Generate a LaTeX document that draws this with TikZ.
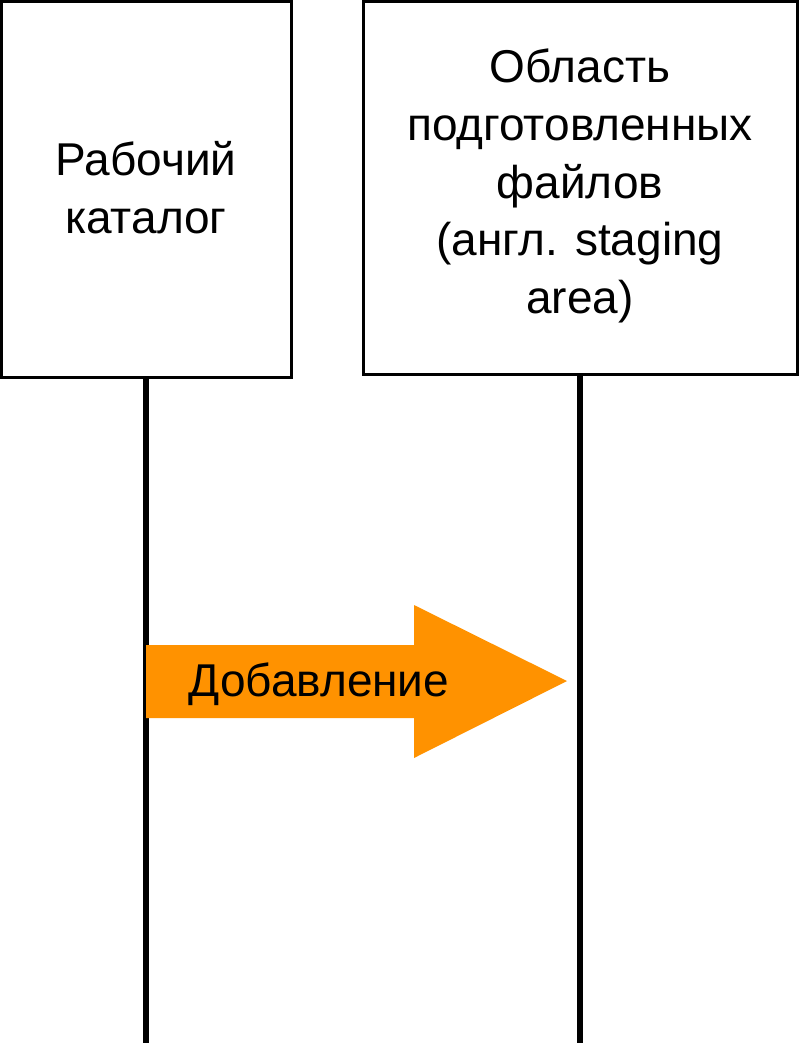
\documentclass[tikz,border=0pt]{standalone}
\usepackage{fontspec}
\setmainfont{Liberation Sans}
\definecolor{arroworange}{HTML}{FF9200}
\begin{document}
\begin{tikzpicture}[x=1pt,y=-1pt,
  box/.style={draw=black,line width=3pt,fill=white,inner sep=0pt},
  lifeline/.style={draw=black,line width=6pt},
  lbl/.style={align=center,font=\fontsize{46}{57.8}\selectfont,inner sep=0pt}]
\useasboundingbox (0,0) rectangle (800,1046);
% boxes
\node[box,minimum width=289.5pt,minimum height=376pt] (wd) at (146.25,189.5) {};
\node[box,minimum width=434pt,minimum height=373pt] (sa) at (580,188) {};
\node[lbl] (wdt) at (146,188) {Рабочий\\каталог};
\node[lbl] (sat) at (580,186) {Область\\подготовленных\\файлов\\(англ. staging\\area)};
% lifelines
\coordinate (wdend) at (146.3,1043);
\coordinate (saend) at (580.3,1043);
\draw[lifeline] (wd.south -| wdend) -- (wdend);
\draw[lifeline] (sa.south -| saend) -- (saend);
% add arrow
\fill[arroworange] (146,645) -- (414,645) -- (414,605) -- (567,681) -- (414,758) -- (414,718) -- (146,718) -- cycle;
\node[lbl,anchor=base] (add) at (319,696) {Добавление};
\end{tikzpicture}
\end{document}
